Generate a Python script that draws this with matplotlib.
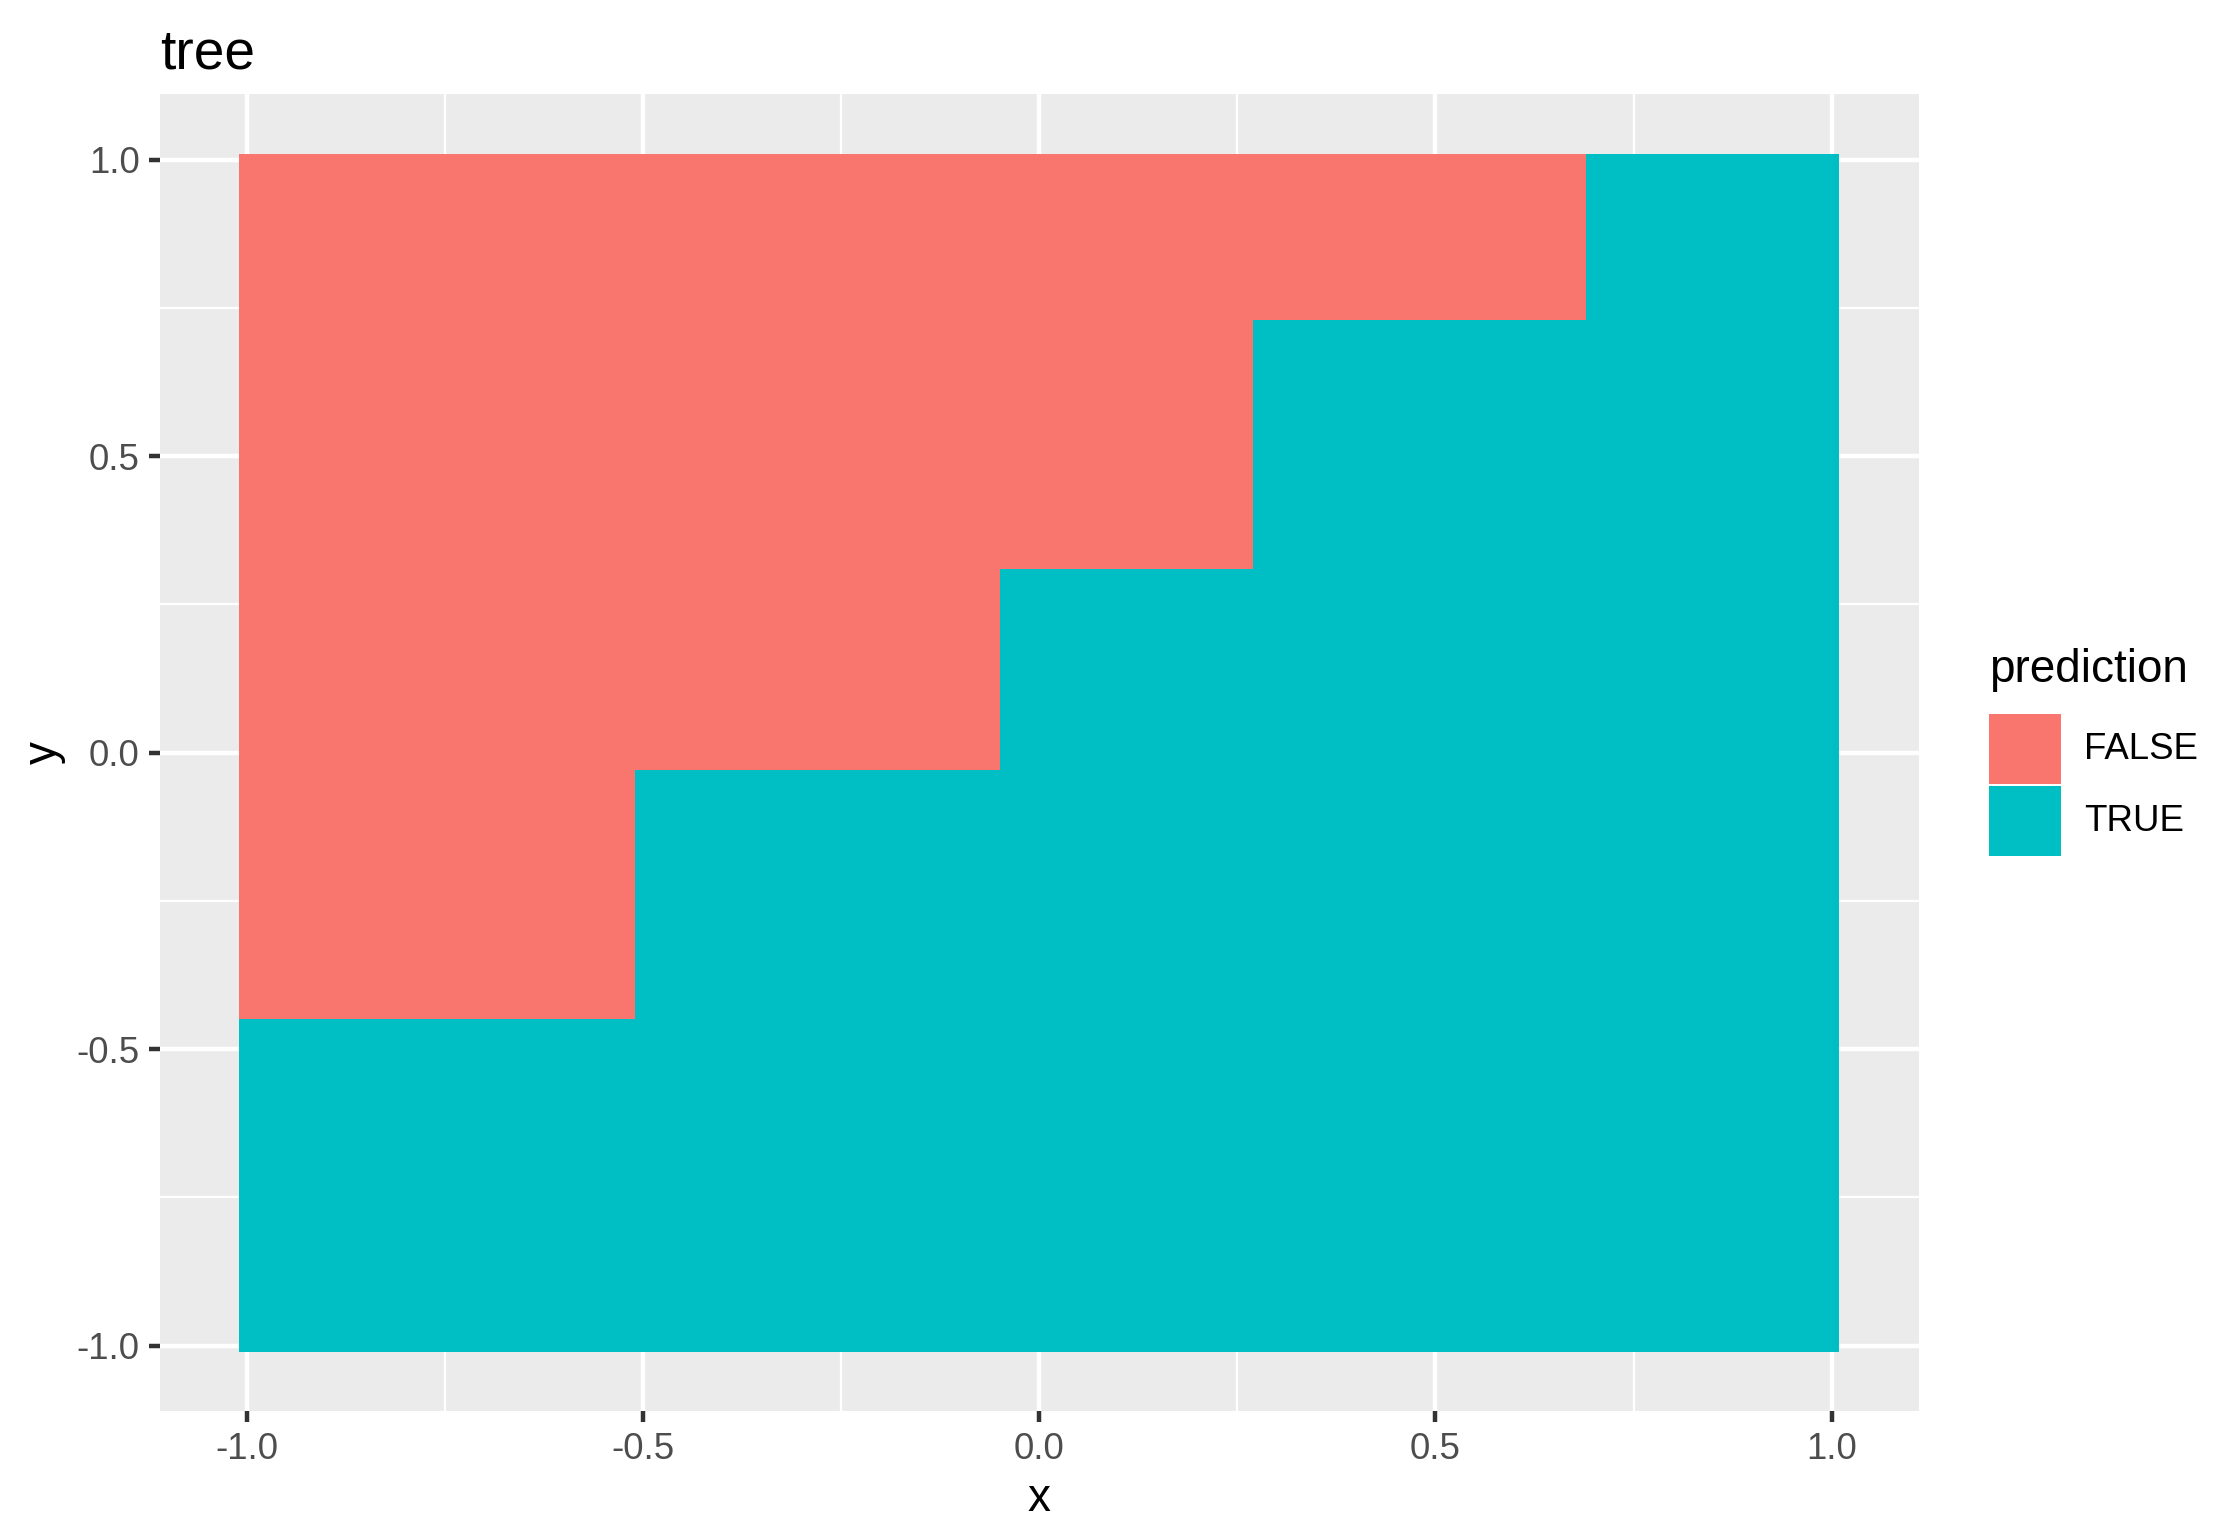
import matplotlib.pyplot as plt
import numpy as np
from matplotlib.colors import ListedColormap
from matplotlib.patches import Rectangle

plt.rcParams['font.family'] = ['Liberation Sans', 'DejaVu Sans']

# decision tree splits: x interval start -> y threshold above which FALSE
x_splits = [-1.01, -0.505, -0.04, 0.262, 0.686]
y_thresholds = [-0.443, -0.022, 0.304, 0.725, 1.02]
categories = ['FALSE', 'TRUE']
colors = ['#F8766D', '#00BFC4']

grid = np.round(np.arange(-1.0, 1.0001, 0.02), 2)
gx, gy = np.meshgrid(grid, grid)
idx = np.searchsorted(x_splits, gx, side='right') - 1
thr = np.array(y_thresholds)[idx]
pred = np.where(gy > thr, 0, 1)  # 0 = FALSE, 1 = TRUE

edges = np.concatenate([grid - 0.01, [grid[-1] + 0.01]])

fig = plt.figure(figsize=(2231 / 300, 1540 / 300), dpi=300)
ax = fig.add_axes([0.0718, 0.0835, 0.860 - 0.0718, 0.939 - 0.0835])
ax.set_facecolor('#EBEBEB')
ax.pcolormesh(edges, edges, pred, cmap=ListedColormap(colors), vmin=0, vmax=1, zorder=2)

ax.set_xlim(-1.11, 1.11)
ax.set_ylim(-1.111, 1.111)
ticks = [-1.0, -0.5, 0.0, 0.5, 1.0]
ax.set_xticks(ticks)
ax.set_yticks(ticks)
ax.set_xticks([-0.75, -0.25, 0.25, 0.75], minor=True)
ax.set_yticks([-0.75, -0.25, 0.25, 0.75], minor=True)
ax.set_xticklabels([f'{t:.1f}' for t in ticks])
ax.set_yticklabels([f'{t:.1f}' for t in ticks])
ax.grid(which='major', color='white', linewidth=1.07, zorder=0)
ax.grid(which='minor', color='white', linewidth=0.53, zorder=0)
ax.set_axisbelow(True)
for s in ax.spines.values():
    s.set_visible(False)
ax.tick_params(which='major', length=2.75, width=1.07, color='#333333',
               labelsize=8.8, labelcolor='#4D4D4D', pad=2.2)
ax.tick_params(which='minor', length=0)
ax.set_xlabel('x', fontsize=11, labelpad=2.5)
ax.set_ylabel('y', fontsize=11, labelpad=2.5)
ax.set_title('tree', fontsize=13.2, loc='left', pad=6)

# legend
fig.text(1391 / 1560, 1 - 469 / 1078, 'prediction', fontsize=11, va='center', ha='left')
kw, kh = 50 / 1560, 49 / 1078
for i, (lab, c) in enumerate(zip(categories, colors)):
    ytop = 1 - (500 + i * 50.5) / 1078
    fig.patches.append(Rectangle((1391 / 1560, ytop - kh), kw, kh, facecolor=c,
                                 edgecolor='none', transform=fig.transFigure))
    fig.text(1457 / 1560, ytop - kh / 2, lab, fontsize=8.8, va='center', ha='left')

fig.savefig('out.png', dpi=300)
